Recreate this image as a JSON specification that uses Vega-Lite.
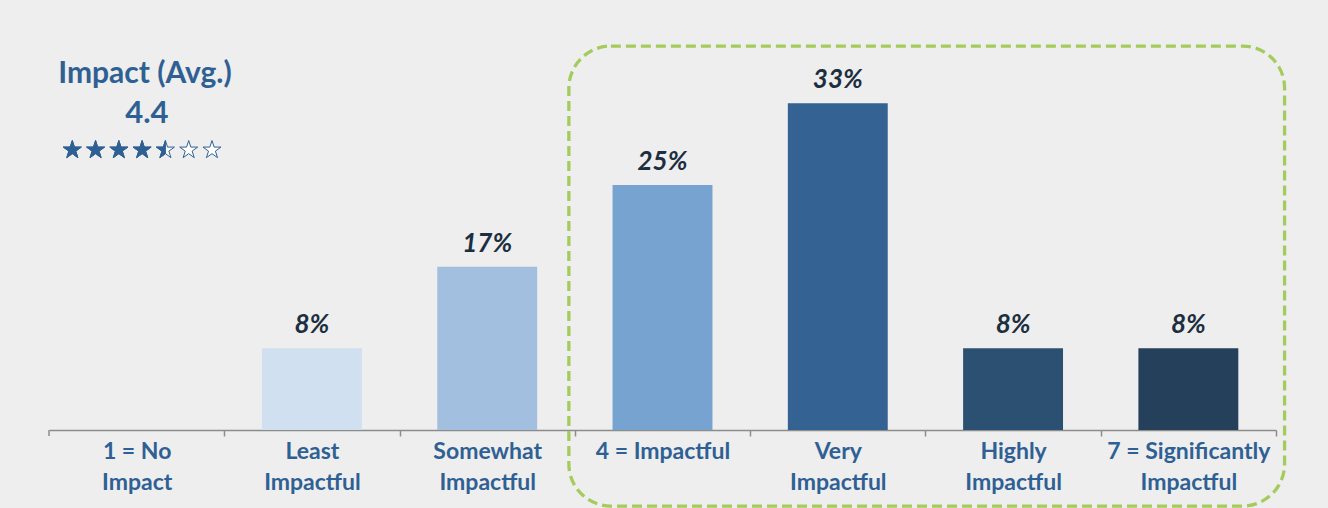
{
  "$schema": "https://vega.github.io/schema/vega-lite/v6.json",
  "width": 1227,
  "height": 392,
  "autosize": "none",
  "padding": {"left": 49, "top": 38, "right": 52, "bottom": 78},
  "background": "#eeeeee",
  "config": {"view": {"stroke": null}, "font": "Lato"},
  "data": {"values": [
      {"category": "1 = No Impact", "share": 0},
      {"category": "Least Impactful", "share": 0.0833},
      {"category": "Somewhat Impactful", "share": 0.1667},
      {"category": "4 = Impactful", "share": 0.25},
      {"category": "Very Impactful", "share": 0.3333},
      {"category": "Highly Impactful", "share": 0.0833},
      {"category": "7 = Significantly Impactful", "share": 0.0833}
  ]},
  "resolve": {"scale": {"xOffset": "independent"}},
  "layer": [
    {
      "mark": {"type": "bar"},
      "encoding": {
        "x": {
          "field": "category",
          "type": "nominal",
          "sort": null,
          "scale": {
            "domain": ["1 = No Impact", "Least Impactful", "Somewhat Impactful", "4 = Impactful", "Very Impactful", "Highly Impactful", "7 = Significantly Impactful"],
            "paddingInner": 0.43,
            "paddingOuter": 0.215
          },
          "axis": {
            "title": null,
            "labelAngle": 0,
            "labelFontSize": 23,
            "labelFontWeight": "bold",
            "labelColor": "#2f6094",
            "labelBaseline": "top",
            "labelLineHeight": 31,
            "labelPadding": 4,
            "labelLimit": 0,
            "domainColor": "#8c8c8c",
            "domainWidth": 1.5,
            "tickColor": "#8c8c8c",
            "tickWidth": 1.5,
            "tickSize": 6,
            "tickOffset": 87.65,
            "labelOffset": -87.65,
            "grid": false,
            "labelExpr": "datum.value == '4 = Impactful' ? datum.value : [substring(datum.value, 0, lastindexof(datum.value, ' ')), substring(datum.value, lastindexof(datum.value, ' ') + 1)]"
          }
        },
        "y": {
          "field": "share",
          "type": "quantitative",
          "scale": {"domain": [0, 0.4]},
          "axis": null
        },
        "color": {
          "field": "category",
          "type": "nominal",
          "sort": null,
          "scale": {
            "range": ["#d1e0f0", "#d1e0f0", "#a3bfdf", "#77a3d0", "#346292", "#2c5072", "#24405b"]
          },
          "legend": null
        }
      }
    },
    {
      "transform": [{"filter": "datum.share > 0"}],
      "mark": {"type": "text", "fontSize": 26, "fontWeight": "bold", "fontStyle": "italic", "color": "#1c2e40", "baseline": "alphabetic", "dy": -15},
      "encoding": {
        "x": {"field": "category", "type": "nominal", "sort": null},
        "y": {"field": "share", "type": "quantitative"},
        "text": {"field": "share", "type": "quantitative", "format": ".0%"}
      }
    },
    {
      "transform": [{"filter": "datum.category == '1 = No Impact'"}],
      "mark": {"type": "rule", "color": "#8c8c8c", "strokeWidth": 1.5},
      "encoding": {
        "x": {"field": "category", "type": "nominal", "sort": null, "bandPosition": -0.377},
        "y": {"datum": 0},
        "y2": {"datum": -0.0061}
      }
    },
    {
      "data": {"values": [{"from": "4 = Impactful", "to": "7 = Significantly Impactful"}]},
      "mark": {"type": "rect", "fillOpacity": 0, "stroke": "#a4cc5c", "strokeWidth": 3.3, "strokeDash": [10, 5], "cornerRadius": 42},
      "encoding": {
        "x": {"field": "from", "type": "nominal", "bandPosition": -0.437},
        "x2": {"field": "to", "bandPosition": 1.463},
        "y": {"datum": 0.3918},
        "y2": {"datum": -0.0776}
      }
    },
    {
      "data": {"values": [{"column": "1 = No Impact", "label": "Impact (Avg.)"}]},
      "mark": {"type": "text", "fontSize": 30, "fontWeight": "bold", "color": "#2f6094", "baseline": "alphabetic", "align": "center"},
      "encoding": {
        "x": {"field": "column", "type": "nominal", "bandPosition": 0.583},
        "y": {"datum": 0.3541},
        "text": {"field": "label"}
      }
    },
    {
      "data": {"values": [{"column": "1 = No Impact", "label": "4.4"}]},
      "mark": {"type": "text", "fontSize": 31, "fontWeight": "bold", "color": "#2f6094", "baseline": "alphabetic", "align": "center"},
      "encoding": {
        "x": {"field": "column", "type": "nominal", "bandPosition": 0.603},
        "y": {"datum": 0.3133},
        "text": {"field": "label"}
      }
    },
    {
      "data": {"name": "stars", "values": [
        {"column": "1 = No Impact", "star": 1, "state": "full"},
        {"column": "1 = No Impact", "star": 2, "state": "full"},
        {"column": "1 = No Impact", "star": 3, "state": "full"},
        {"column": "1 = No Impact", "star": 4, "state": "full"},
        {"column": "1 = No Impact", "star": 5, "state": "half"},
        {"column": "1 = No Impact", "star": 6, "state": "empty"},
        {"column": "1 = No Impact", "star": 7, "state": "empty"}
      ]},
      "layer": [
        {
          "mark": {"type": "point", "filled": true, "fill": "#ffffff", "stroke": "#2f6094", "strokeWidth": 1, "opacity": 1, "size": 358,
            "shape": "M0,-1L0.2245,-0.309L0.951,-0.309L0.3633,0.118L0.588,0.809L0,0.382L-0.588,0.809L-0.3633,0.118L-0.951,-0.309L-0.2245,-0.309Z"},
          "encoding": {
            "x": {"field": "column", "type": "nominal", "bandPosition": 0},
            "xOffset": {"field": "star", "type": "quantitative", "scale": {"domain": [1.618, 5.91]}},
            "y": {"datum": 0.2857}
          }
        },
        {
          "transform": [{"filter": "datum.state == 'full'"}],
          "mark": {"type": "point", "filled": true, "fill": "#2f6094", "stroke": "#2f6094", "strokeWidth": 1, "opacity": 1, "size": 358,
            "shape": "M0,-1L0.2245,-0.309L0.951,-0.309L0.3633,0.118L0.588,0.809L0,0.382L-0.588,0.809L-0.3633,0.118L-0.951,-0.309L-0.2245,-0.309Z"},
          "encoding": {
            "x": {"field": "column", "type": "nominal", "bandPosition": 0},
            "xOffset": {"field": "star", "type": "quantitative"},
            "y": {"datum": 0.2857}
          }
        },
        {
          "transform": [{"filter": "datum.state == 'half'"}],
          "mark": {"type": "point", "filled": true, "fill": "#2f6094", "stroke": "#2f6094", "strokeWidth": 1, "opacity": 1, "size": 358,
            "shape": "M0,-1L0,0.382L-0.588,0.809L-0.3633,0.118L-0.951,-0.309L-0.2245,-0.309Z"},
          "encoding": {
            "x": {"field": "column", "type": "nominal", "bandPosition": 0},
            "xOffset": {"field": "star", "type": "quantitative"},
            "y": {"datum": 0.2857}
          }
        }
      ]
    }
  ]
}
